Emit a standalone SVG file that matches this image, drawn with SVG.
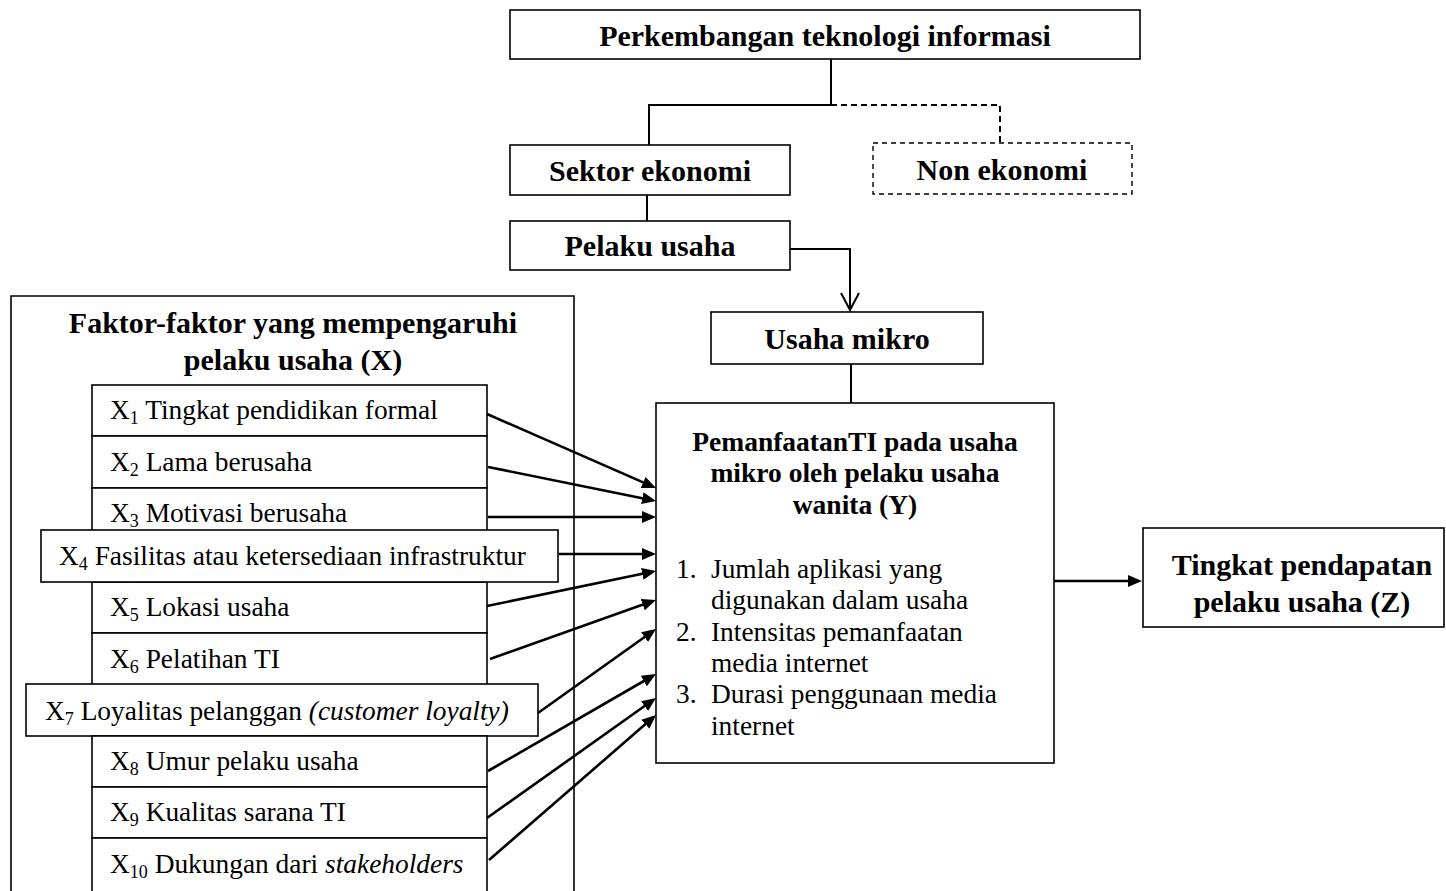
<svg xmlns="http://www.w3.org/2000/svg" width="1446" height="891" viewBox="0 0 1446 891">
<style>
.box{fill:#fff;stroke:#000;stroke-width:1.6}
.dash{fill:#fff;stroke:#000;stroke-width:1.4;stroke-dasharray:5,4}
.hd{font-family:"Liberation Serif","Times New Roman",serif;font-weight:bold;font-size:30px;text-anchor:middle;fill:#000}
.yt{font-family:"Liberation Serif","Times New Roman",serif;font-weight:bold;font-size:27.5px;text-anchor:middle;fill:#000}
.tx{font-family:"Liberation Serif","Times New Roman",serif;font-size:27.4px;fill:#000}
.sub{font-size:18px}
.it{font-style:italic}
.ln{fill:none;stroke:#000;stroke-width:2}
.ar{fill:none;stroke:#000;stroke-width:2.6}
</style>
<defs>
<marker id="tri" markerUnits="userSpaceOnUse" viewBox="0 0 14 12" markerWidth="14" markerHeight="12" refX="10" refY="6" orient="auto">
<path d="M0,0 L14,6 L0,12 z" fill="#000"/>
</marker>
<marker id="vee" markerUnits="userSpaceOnUse" viewBox="-19 -11 21 22" markerWidth="21" markerHeight="22" refX="0" refY="0" orient="auto">
<path d="M-17,-9 L0,0 L-17,9" fill="none" stroke="#000" stroke-width="2"/>
</marker>
</defs>

<g id="node-perkembangan">
<rect class="box" x="510" y="10" width="630" height="49"/>
<text class="hd" x="825" y="46">Perkembangan teknologi informasi</text>
</g>
<g id="node-sektor">
<rect class="box" x="510" y="145" width="280" height="50"/>
<text class="hd" x="650" y="181">Sektor ekonomi</text>
</g>
<g id="node-non">
<rect class="dash" x="873" y="143" width="259" height="51"/>
<text class="hd" x="1002" y="180">Non ekonomi</text>
</g>
<g id="node-pelaku">
<rect class="box" x="510" y="221" width="280" height="49"/>
<text class="hd" x="650" y="256">Pelaku usaha</text>
</g>
<g id="node-usaha-mikro">
<rect class="box" x="711" y="312" width="272" height="52"/>
<text class="hd" x="847" y="349">Usaha mikro</text>
</g>
<g id="node-faktor">
<path d="M11,900 V296 H574 V900" fill="none" stroke="#000" stroke-width="1.6"/>
<text class="hd" x="293" y="333">Faktor-faktor yang mempengaruhi</text>
<text class="hd" x="293" y="370">pelaku usaha (X)</text>
</g>
<g id="node-x1">
<rect class="box" x="92" y="385" width="395" height="51"/>
<text class="tx" x="110" y="419">X<tspan class="sub" dy="5">1</tspan><tspan dy="-5"> Tingkat pendidikan formal</tspan></text>
</g>
<g id="node-x2">
<rect class="box" x="92" y="436" width="395" height="52"/>
<text class="tx" x="110" y="471">X<tspan class="sub" dy="5">2</tspan><tspan dy="-5"> Lama berusaha</tspan></text>
</g>
<g id="node-x3">
<rect class="box" x="92" y="488" width="395" height="52"/>
<text class="tx" x="110" y="522">X<tspan class="sub" dy="5">3</tspan><tspan dy="-5"> Motivasi berusaha</tspan></text>
</g>
<g id="node-x5">
<rect class="box" x="92" y="582" width="395" height="51"/>
<text class="tx" x="110" y="616">X<tspan class="sub" dy="5">5</tspan><tspan dy="-5"> Lokasi usaha</tspan></text>
</g>
<g id="node-x6">
<rect class="box" x="92" y="633" width="395" height="52"/>
<text class="tx" x="110" y="668">X<tspan class="sub" dy="5">6</tspan><tspan dy="-5"> Pelatihan TI</tspan></text>
</g>
<g id="node-x4">
<rect class="box" x="41" y="530" width="517" height="52"/>
<text class="tx" x="59" y="565">X<tspan class="sub" dy="5">4</tspan><tspan dy="-5"> Fasilitas atau ketersediaan infrastruktur</tspan></text>
</g>
<g id="node-x7">
<rect class="box" x="26" y="684" width="512" height="52"/>
<text class="tx" x="45" y="720">X<tspan class="sub" dy="5">7</tspan><tspan dy="-5"> Loyalitas pelanggan </tspan><tspan class="it">(customer loyalty)</tspan></text>
</g>
<g id="node-x8">
<rect class="box" x="92" y="736" width="395" height="51"/>
<text class="tx" x="110" y="770">X<tspan class="sub" dy="5">8</tspan><tspan dy="-5"> Umur pelaku usaha</tspan></text>
</g>
<g id="node-x9">
<rect class="box" x="92" y="787" width="395" height="51"/>
<text class="tx" x="110" y="821">X<tspan class="sub" dy="5">9</tspan><tspan dy="-5"> Kualitas sarana TI</tspan></text>
</g>
<g id="node-x10">
<rect class="box" x="92" y="838" width="395" height="60"/>
<text class="tx" x="110" y="873">X<tspan class="sub" dy="5">10</tspan><tspan dy="-5"> Dukungan dari </tspan><tspan class="it">stakeholders</tspan></text>
</g>
<g id="node-y">
<rect class="box" x="656" y="403" width="398" height="360"/>
<text class="yt" x="855" y="451">PemanfaatanTI pada usaha</text>
<text class="yt" x="855" y="482">mikro oleh pelaku usaha</text>
<text class="yt" x="855" y="514">wanita (Y)</text>
<text class="tx" x="676" y="578">1.</text>
<text class="tx" x="711" y="578">Jumlah aplikasi yang</text>
<text class="tx" x="711" y="609">digunakan dalam usaha</text>
<text class="tx" x="676" y="641">2.</text>
<text class="tx" x="711" y="641">Intensitas pemanfaatan</text>
<text class="tx" x="711" y="672">media internet</text>
<text class="tx" x="676" y="703">3.</text>
<text class="tx" x="711" y="703">Durasi penggunaan media</text>
<text class="tx" x="711" y="735">internet</text>
</g>
<g id="node-z">
<rect class="box" x="1143" y="528" width="301" height="99"/>
<text class="hd" x="1302" y="575">Tingkat pendapatan</text>
<text class="hd" x="1302" y="612">pelaku usaha (Z)</text>
</g>

<g id="connectors">
<path class="ln" d="M831,59 V105 H649 V145"/>
<path class="ln" d="M831,105 H1000 V143" stroke-dasharray="6,4"/>
<path class="ln" d="M647,195 V221"/>
<path class="ln" d="M790,249 H850 V310" marker-end="url(#vee)"/>
<path class="ln" d="M851,364 V403"/>
<line class="ar" x1="487" y1="414" x2="652.3" y2="486.4" marker-end="url(#tri)"/>
<line class="ar" x1="488" y1="467" x2="652.1" y2="500.2" marker-end="url(#tri)"/>
<line class="ar" x1="488" y1="517" x2="652" y2="517" marker-end="url(#tri)"/>
<line class="ar" x1="559" y1="554" x2="652" y2="554" marker-end="url(#tri)"/>
<line class="ar" x1="487" y1="606" x2="652.1" y2="571.8" marker-end="url(#tri)"/>
<line class="ar" x1="490" y1="659" x2="652.2" y2="601.3" marker-end="url(#tri)"/>
<line class="ar" x1="538" y1="713" x2="652.7" y2="631.3" marker-end="url(#tri)"/>
<line class="ar" x1="488" y1="771" x2="652.5" y2="676" marker-end="url(#tri)"/>
<line class="ar" x1="487" y1="818" x2="652.7" y2="700.3" marker-end="url(#tri)"/>
<line class="ar" x1="489" y1="860" x2="653" y2="717.6" marker-end="url(#tri)"/>
<line class="ar" x1="1054" y1="581" x2="1138" y2="581" marker-end="url(#tri)"/>
</g>
</svg>
